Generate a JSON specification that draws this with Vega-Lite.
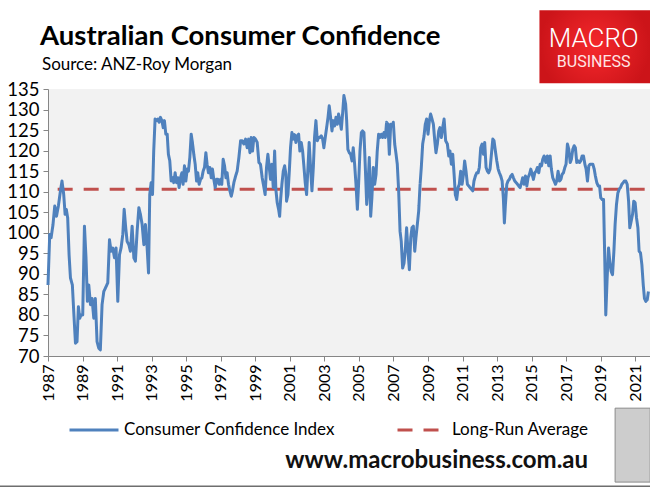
{
"$schema": "https://vega.github.io/schema/vega-lite/v6.json",
"width": 602, "height": 267,
"autosize": {"type": "none"},
"padding": {"left": 48, "top": 89, "right": 0, "bottom": 132},
"background": "white",
"config": {
  "view": {"fill": "#f2f2f2", "stroke": null},
  "axis": {"domainColor": "#868686", "tickColor": "#868686", "labelFont": "Lato", "labelColor": "#000000", "grid": false, "tickSize": 5, "title": null, "labelFlush": false, "labelOverlap": false, "labelBound": false, "tickCount": 60},
  "legend": {"orient": "none", "legendX": 20, "legendY": 315, "direction": "horizontal", "title": null, "symbolType": "stroke", "symbolSize": 2400, "symbolStrokeWidth": 3, "labelFont": "Lato", "labelFontSize": 17, "labelColor": "#000000", "columnPadding": 56, "labelOffset": 4, "labelLimit": 400}
},
"datasets": {
"cci": [
{"t":1987.00,"v":87.3},{"t":1987.10,"v":99.6},{"t":1987.18,"v":98.8},{"t":1987.29,"v":102},{"t":1987.39,"v":106.5},{"t":1987.49,"v":104},{"t":1987.60,"v":106.5},{"t":1987.72,"v":110.2},{"t":1987.81,"v":112.6},{"t":1987.91,"v":109.3},{"t":1987.99,"v":104.5},{"t":1988.06,"v":105.7},{"t":1988.14,"v":103.6},{"t":1988.22,"v":94.7},{"t":1988.30,"v":89},{"t":1988.41,"v":87.3},{"t":1988.49,"v":80.8},{"t":1988.59,"v":73.1},{"t":1988.68,"v":73.5},{"t":1988.76,"v":82},{"t":1988.84,"v":79.2},{"t":1988.91,"v":80},{"t":1989.01,"v":80},{"t":1989.11,"v":101.6},{"t":1989.20,"v":93.9},{"t":1989.28,"v":83.3},{"t":1989.36,"v":87.3},{"t":1989.46,"v":82.5},{"t":1989.55,"v":84},{"t":1989.65,"v":79.2},{"t":1989.74,"v":84},{"t":1989.84,"v":73.5},{"t":1989.94,"v":71.9},{"t":1990.03,"v":71.5},{"t":1990.13,"v":82.5},{"t":1990.23,"v":85.7},{"t":1990.32,"v":86.5},{"t":1990.46,"v":87.8},{"t":1990.56,"v":98.3},{"t":1990.65,"v":95.5},{"t":1990.75,"v":96.3},{"t":1990.85,"v":93.9},{"t":1990.94,"v":96.3},{"t":1991.04,"v":83.3},{"t":1991.14,"v":94.7},{"t":1991.23,"v":96.3},{"t":1991.33,"v":99.6},{"t":1991.41,"v":105.7},{"t":1991.50,"v":101.2},{"t":1991.58,"v":97.9},{"t":1991.68,"v":97.1},{"t":1991.77,"v":95.5},{"t":1991.87,"v":101.6},{"t":1991.97,"v":93.9},{"t":1992.06,"v":93.1},{"t":1992.16,"v":100.4},{"t":1992.26,"v":106.1},{"t":1992.35,"v":104.5},{"t":1992.45,"v":102},
{"t":1992.55,"v":97.1},{"t":1992.64,"v":102},{"t":1992.74,"v":96.3},{"t":1992.82,"v":90.2},{"t":1992.89,"v":109.3},{"t":1992.97,"v":112.2},{"t":1993.05,"v":109.3},{"t":1993.12,"v":119.9},{"t":1993.20,"v":127.7},{"t":1993.28,"v":127.3},{"t":1993.36,"v":127.7},{"t":1993.43,"v":126.9},{"t":1993.51,"v":128.1},{"t":1993.59,"v":127.3},{"t":1993.67,"v":125.6},{"t":1993.74,"v":127.3},{"t":1993.82,"v":124},{"t":1993.90,"v":124},{"t":1993.97,"v":119.1},{"t":1994.05,"v":117.5},{"t":1994.13,"v":112.6},{"t":1994.21,"v":113.4},{"t":1994.28,"v":112.2},{"t":1994.36,"v":114.6},{"t":1994.44,"v":112.2},{"t":1994.52,"v":113.4},{"t":1994.59,"v":111},{"t":1994.67,"v":113.4},{"t":1994.75,"v":114.6},{"t":1994.82,"v":111.8},{"t":1994.90,"v":116.3},{"t":1994.98,"v":112.6},{"t":1995.06,"v":115.5},{"t":1995.13,"v":115},{"t":1995.21,"v":118.3},{"t":1995.29,"v":124},{"t":1995.36,"v":122},{"t":1995.44,"v":119.1},{"t":1995.52,"v":116.7},{"t":1995.60,"v":112.6},{"t":1995.67,"v":114.6},{"t":1995.75,"v":111.8},{"t":1995.83,"v":113},{"t":1995.91,"v":113.4},{"t":1995.98,"v":115},{"t":1996.06,"v":115.9},{"t":1996.14,"v":119.5},{"t":1996.21,"v":116.7},{"t":1996.29,"v":114.6},{"t":1996.37,"v":115.9},{"t":1996.45,"v":113.4},{"t":1996.52,"v":115.5},{"t":1996.60,"v":113},{"t":1996.68,"v":111},{"t":1996.76,"v":113},{"t":1996.83,"v":113},{"t":1996.91,"v":111.8},{"t":1996.99,"v":113},{"t":1997.06,"v":111.8},{"t":1997.14,"v":117.9},{"t":1997.22,"v":116.3},{"t":1997.30,"v":113.4},{"t":1997.37,"v":114.6},{"t":1997.45,"v":111.8},{"t":1997.53,"v":110.2},{"t":1997.61,"v":108.9},{"t":1997.68,"v":110.2},{"t":1997.76,"v":112.2},{"t":1997.86,"v":113.8},{"t":1997.95,"v":115},{"t":1998.05,"v":118.3},{"t":1998.15,"v":122.4},{"t":1998.24,"v":122.4},
{"t":1998.34,"v":121.6},{"t":1998.44,"v":122.8},{"t":1998.53,"v":120.7},{"t":1998.61,"v":122.8},{"t":1998.69,"v":119.5},{"t":1998.76,"v":123.2},{"t":1998.84,"v":119.9},{"t":1998.92,"v":123.2},{"t":1999.01,"v":122.8},{"t":1999.11,"v":122},{"t":1999.21,"v":117.1},{"t":1999.30,"v":116.7},{"t":1999.40,"v":113.4},{"t":1999.50,"v":111},{"t":1999.57,"v":109.3},{"t":1999.65,"v":115.9},{"t":1999.73,"v":119.1},{"t":1999.81,"v":115.9},{"t":1999.88,"v":113},{"t":1999.96,"v":116.7},{"t":2000.04,"v":111},{"t":2000.12,"v":119.9},{"t":2000.19,"v":110.6},{"t":2000.27,"v":107.3},{"t":2000.35,"v":105.7},{"t":2000.41,"v":104},{"t":2000.46,"v":107.7},{"t":2000.54,"v":111.8},{"t":2000.62,"v":115},{"t":2000.70,"v":116.3},{"t":2000.77,"v":114.2},{"t":2000.81,"v":107.7},{"t":2000.89,"v":109.3},{"t":2000.97,"v":115},{"t":2001.04,"v":120.7},{"t":2001.12,"v":124.4},{"t":2001.20,"v":122.8},{"t":2001.27,"v":123.9},{"t":2001.35,"v":122},{"t":2001.43,"v":123.6},{"t":2001.51,"v":124},{"t":2001.58,"v":119.9},{"t":2001.66,"v":122},{"t":2001.74,"v":119.9},{"t":2001.82,"v":115.9},{"t":2001.89,"v":112.2},{"t":2001.97,"v":109.3},{"t":2002.05,"v":115.9},{"t":2002.12,"v":122},{"t":2002.20,"v":115.9},{"t":2002.28,"v":110.2},{"t":2002.36,"v":115.9},{"t":2002.43,"v":123.2},{"t":2002.51,"v":127.3},{"t":2002.59,"v":122.4},{"t":2002.66,"v":123.2},{"t":2002.74,"v":123.2},{"t":2002.82,"v":123.6},{"t":2002.90,"v":122.8},{"t":2002.97,"v":120.7},{"t":2003.05,"v":123.2},{"t":2003.13,"v":125.6},{"t":2003.21,"v":128.1},{"t":2003.28,"v":130.9},{"t":2003.36,"v":128.1},{"t":2003.44,"v":124.8},{"t":2003.51,"v":127.3},{"t":2003.59,"v":126},{"t":2003.67,"v":128.1},{"t":2003.75,"v":126.4},{"t":2003.82,"v":128.9},{"t":2003.90,"v":127.3},{"t":2003.98,"v":125.2},{"t":2004.06,"v":129.3},
{"t":2004.13,"v":133.4},{"t":2004.23,"v":131.3},{"t":2004.29,"v":127.3},{"t":2004.36,"v":120.3},{"t":2004.44,"v":119.5},{"t":2004.52,"v":119.1},{"t":2004.60,"v":117.5},{"t":2004.67,"v":120.7},{"t":2004.75,"v":116.7},{"t":2004.83,"v":111.8},{"t":2004.91,"v":105.7},{"t":2004.98,"v":111.8},{"t":2005.06,"v":119.9},{"t":2005.14,"v":124.4},{"t":2005.21,"v":124.8},{"t":2005.29,"v":124.4},{"t":2005.37,"v":115.9},{"t":2005.45,"v":106.9},{"t":2005.52,"v":111},{"t":2005.60,"v":118.3},{"t":2005.68,"v":104},{"t":2005.75,"v":108.5},{"t":2005.83,"v":115.9},{"t":2005.91,"v":111.8},{"t":2005.99,"v":114.2},{"t":2006.06,"v":119.9},{"t":2006.14,"v":124},{"t":2006.22,"v":123.2},{"t":2006.30,"v":124},{"t":2006.37,"v":123.2},{"t":2006.45,"v":124.4},{"t":2006.53,"v":123.2},{"t":2006.60,"v":126.9},{"t":2006.68,"v":126.4},{"t":2006.76,"v":119.1},{"t":2006.84,"v":126.4},{"t":2006.91,"v":126},{"t":2006.99,"v":126.9},{"t":2007.07,"v":121.6},{"t":2007.15,"v":119.1},{"t":2007.22,"v":116.7},{"t":2007.30,"v":110.2},{"t":2007.38,"v":100.4},{"t":2007.45,"v":97.9},{"t":2007.53,"v":91.4},{"t":2007.61,"v":92.6},{"t":2007.69,"v":96.3},{"t":2007.76,"v":101.2},{"t":2007.84,"v":95.5},{"t":2007.92,"v":91},{"t":2008.00,"v":98.8},{"t":2008.07,"v":101.2},{"t":2008.15,"v":101.6},{"t":2008.23,"v":95.5},{"t":2008.30,"v":98.8},{"t":2008.38,"v":102},{"t":2008.46,"v":105.3},{"t":2008.54,"v":111.8},{"t":2008.61,"v":115.9},{"t":2008.69,"v":121.6},{"t":2008.77,"v":123.6},{"t":2008.84,"v":126.4},{"t":2008.92,"v":127.7},{"t":2009.00,"v":124},{"t":2009.08,"v":127.3},{"t":2009.15,"v":128.9},{"t":2009.23,"v":127.7},{"t":2009.31,"v":126.4},{"t":2009.39,"v":122.4},{"t":2009.46,"v":119.5},{"t":2009.54,"v":121.6},{"t":2009.62,"v":124.8},{"t":2009.69,"v":125.6},{"t":2009.77,"v":123.2},{"t":2009.85,"v":125.6},
{"t":2009.93,"v":127.7},{"t":2010.02,"v":122.4},{"t":2010.12,"v":121.6},{"t":2010.20,"v":118.7},{"t":2010.27,"v":119.9},{"t":2010.35,"v":116.7},{"t":2010.43,"v":119.1},{"t":2010.51,"v":114.2},{"t":2010.58,"v":109.3},{"t":2010.66,"v":108.1},{"t":2010.74,"v":111},{"t":2010.81,"v":111.8},{"t":2010.89,"v":115},{"t":2010.97,"v":111.8},{"t":2011.05,"v":114.2},{"t":2011.12,"v":117.5},{"t":2011.20,"v":115},{"t":2011.28,"v":111.8},{"t":2011.36,"v":111.4},{"t":2011.43,"v":111},{"t":2011.51,"v":110.6},{"t":2011.59,"v":110.2},{"t":2011.66,"v":112.6},{"t":2011.74,"v":113.8},{"t":2011.82,"v":114.6},{"t":2011.90,"v":114.6},{"t":2011.97,"v":115.9},{"t":2012.05,"v":120.7},{"t":2012.13,"v":121.6},{"t":2012.21,"v":119.1},{"t":2012.28,"v":122},{"t":2012.36,"v":115.9},{"t":2012.44,"v":115},{"t":2012.51,"v":114.6},{"t":2012.59,"v":115.5},{"t":2012.67,"v":119.1},{"t":2012.75,"v":122.8},{"t":2012.82,"v":122.4},{"t":2012.90,"v":119.9},{"t":2012.98,"v":117.5},{"t":2013.06,"v":115.5},{"t":2013.13,"v":114.6},{"t":2013.21,"v":113.8},{"t":2013.29,"v":112.6},{"t":2013.36,"v":108.5},{"t":2013.42,"v":102.4},{"t":2013.48,"v":106.9},{"t":2013.56,"v":111.8},{"t":2013.63,"v":112.6},{"t":2013.71,"v":113},{"t":2013.79,"v":113.8},{"t":2013.87,"v":114.2},{"t":2013.94,"v":113.4},{"t":2014.02,"v":112.6},{"t":2014.10,"v":112.2},{"t":2014.18,"v":111.8},{"t":2014.25,"v":111.4},{"t":2014.33,"v":111},{"t":2014.41,"v":112.2},{"t":2014.48,"v":113.4},{"t":2014.56,"v":111.8},{"t":2014.64,"v":113.8},{"t":2014.72,"v":111.4},{"t":2014.79,"v":113.4},{"t":2014.87,"v":114.2},{"t":2014.95,"v":115.5},{"t":2015.03,"v":114.2},{"t":2015.10,"v":113},{"t":2015.18,"v":114.6},{"t":2015.26,"v":115},{"t":2015.33,"v":115.9},{"t":2015.41,"v":114.6},{"t":2015.49,"v":116.7},{"t":2015.57,"v":116.3},{"t":2015.64,"v":117.9},
{"t":2015.72,"v":118.7},{"t":2015.82,"v":117.1},{"t":2015.91,"v":118.7},{"t":2015.99,"v":116.3},{"t":2016.07,"v":118.7},{"t":2016.14,"v":115.5},{"t":2016.22,"v":113.4},{"t":2016.30,"v":112.6},{"t":2016.38,"v":111.8},{"t":2016.45,"v":112.6},{"t":2016.53,"v":115},{"t":2016.61,"v":112.6},{"t":2016.69,"v":113},{"t":2016.76,"v":114.2},{"t":2016.84,"v":114.6},{"t":2016.92,"v":115.9},{"t":2016.99,"v":116.7},{"t":2017.07,"v":121.6},{"t":2017.15,"v":120.3},{"t":2017.23,"v":117.1},{"t":2017.30,"v":117.9},{"t":2017.38,"v":120.3},{"t":2017.46,"v":121.2},{"t":2017.53,"v":120.7},{"t":2017.61,"v":117.1},{"t":2017.69,"v":117.5},{"t":2017.77,"v":117.1},{"t":2017.84,"v":117.5},{"t":2017.92,"v":118.7},{"t":2018.00,"v":118.7},{"t":2018.08,"v":116.7},{"t":2018.15,"v":115.5},{"t":2018.23,"v":112.6},{"t":2018.31,"v":116.3},{"t":2018.38,"v":116.7},{"t":2018.46,"v":116.7},{"t":2018.54,"v":116.7},{"t":2018.62,"v":115.5},{"t":2018.69,"v":113.8},{"t":2018.77,"v":112.2},{"t":2018.85,"v":111.4},{"t":2018.93,"v":111.4},{"t":2019.00,"v":108.5},{"t":2019.08,"v":108.1},{"t":2019.16,"v":108.1},{"t":2019.23,"v":93.9},{"t":2019.29,"v":80},{"t":2019.37,"v":89},{"t":2019.45,"v":96.3},{"t":2019.52,"v":93.1},{"t":2019.60,"v":90.6},{"t":2019.68,"v":89.8},{"t":2019.76,"v":95.5},{"t":2019.83,"v":102},{"t":2019.91,"v":106.9},{"t":2019.99,"v":109.7},{"t":2020.07,"v":110.6},{"t":2020.14,"v":111},{"t":2020.22,"v":111.8},{"t":2020.30,"v":112.2},{"t":2020.37,"v":112.6},{"t":2020.45,"v":112.6},{"t":2020.53,"v":111.8},{"t":2020.61,"v":107.7},{"t":2020.68,"v":101.2},{"t":2020.76,"v":102.8},{"t":2020.84,"v":104.5},{"t":2020.91,"v":107.7},{"t":2020.99,"v":107.3},{"t":2021.07,"v":103.6},{"t":2021.15,"v":101.2},{"t":2021.22,"v":95.5},{"t":2021.30,"v":95.1},{"t":2021.38,"v":92.2},{"t":2021.46,"v":87.3},{"t":2021.53,"v":84},{"t":2021.61,"v":83.3},{"t":2021.69,"v":83.7},{"t":2021.76,"v":85.7}
],
"avg": [{"t":1987.56,"v":110.6},{"t":2021.8,"v":110.6}]
},
"layer": [
{
 "data": {"name": "avg"},
 "mark": {"type": "line", "strokeWidth": 3, "strokeCap": "butt"},
 "encoding": {
  "x": {"field": "t", "type": "quantitative", "scale": {"domain": [1987, 2021.85], "nice": false, "zero": false},
        "axis": {"values": [1987,1989,1991,1993,1995,1997,1999,2001,2003,2005,2007,2009,2011,2013,2015,2017,2019,2021], "tickCount": 60, "format": "d", "labelAngle": -90, "labelFontSize": 16, "labelPadding": 3, "labelOverlap": false, "labelFlush": false}},
  "y": {"field": "v", "type": "quantitative", "scale": {"domain": [70, 135], "nice": false, "zero": false},
        "axis": {"values": [70,75,80,85,90,95,100,105,110,115,120,125,130,135], "tickCount": 60, "labelFontSize": 18.5, "labelPadding": 4, "labelOverlap": false, "labelFlush": false}},
  "color": {"datum": "Long-Run Average", "scale": {"domain": ["Consumer Confidence Index", "Long-Run Average"], "range": ["#4f81bd", "#c0504d"]}},
  "strokeDash": {"datum": "Long-Run Average", "scale": {"domain": ["Consumer Confidence Index", "Long-Run Average"], "range": [[1, 0], [15, 11]]}}
 }
},
{
 "data": {"name": "cci"},
 "mark": {"type": "line", "strokeWidth": 3, "strokeJoin": "round"},
 "encoding": {
  "x": {"field": "t", "type": "quantitative"},
  "y": {"field": "v", "type": "quantitative"},
  "color": {"datum": "Consumer Confidence Index"},
  "strokeDash": {"datum": "Consumer Confidence Index"}
 }
},
{
 "data": {"values": [{}]},
 "mark": {"type": "text", "text": "Australian Consumer Confidence", "clip": false, "font": "Lato", "fontWeight": "bold", "fontSize": 27.5, "color": "#000000", "align": "left", "baseline": "alphabetic"},
 "encoding": {"x": {"datum": 1986.54, "type": "quantitative"}, "y": {"datum": 145.7, "type": "quantitative"}}
},
{
 "data": {"values": [{}]},
 "mark": {"type": "text", "text": "Source: ANZ-Roy Morgan", "clip": false, "font": "Lato", "fontSize": 17, "color": "#000000", "align": "left", "baseline": "alphabetic"},
 "encoding": {"x": {"datum": 1986.65, "type": "quantitative"}, "y": {"datum": 139.6, "type": "quantitative"}}
},
{
 "data": {"values": [{}]},
 "mark": {"type": "rect", "clip": false, "fill": {"gradient": "radial", "stops": [{"offset": 0, "color": "#f5282c"}, {"offset": 1, "color": "#cc1419"}]}},
 "encoding": {"x": {"datum": 2015.45, "type": "quantitative"}, "x2": {"datum": 2021.85}, "y": {"datum": 154.2, "type": "quantitative"}, "y2": {"datum": 136.4}}
},
{
 "data": {"values": [{}]},
 "mark": {"type": "text", "text": "MACRO", "clip": false, "font": "Roboto", "fontWeight": 300, "fontSize": 26, "color": "#ffffff", "align": "center", "baseline": "alphabetic"},
 "encoding": {"x": {"datum": 2018.59, "type": "quantitative"}, "y": {"datum": 145.2, "type": "quantitative"}}
},
{
 "data": {"values": [{}]},
 "mark": {"type": "text", "text": "BUSINESS", "clip": false, "font": "Roboto", "fontWeight": 400, "fontSize": 16, "color": "#ffe5e5", "align": "center", "baseline": "alphabetic"},
 "encoding": {"x": {"datum": 2018.59, "type": "quantitative"}, "y": {"datum": 140.35, "type": "quantitative"}}
},
{
 "data": {"values": [{}]},
 "mark": {"type": "text", "text": "www.macrobusiness.com.au", "clip": false, "font": "Lato", "fontWeight": "bold", "fontSize": 24, "color": "#111111", "align": "center", "baseline": "alphabetic"},
 "encoding": {"x": {"datum": 2009.5, "type": "quantitative"}, "y": {"datum": 42.74, "type": "quantitative"}}
},
{
 "data": {"values": [{}]},
 "mark": {"type": "rect", "clip": false, "fill": "#cdcdcd", "stroke": "#8a8a8a", "strokeWidth": 1},
 "encoding": {"x": {"datum": 2019.83, "type": "quantitative"}, "x2": {"datum": 2021.86}, "y": {"datum": 57.3, "type": "quantitative"}, "y2": {"datum": 39.3}}
},
{
 "data": {"values": [{}]},
 "mark": {"type": "rule", "clip": false, "color": "#6e6e6e", "strokeWidth": 1.5},
 "encoding": {"x": {"datum": 1984.22, "type": "quantitative"}, "x2": {"datum": 2021.87}, "y": {"datum": 38.3, "type": "quantitative"}}
}
]
}
